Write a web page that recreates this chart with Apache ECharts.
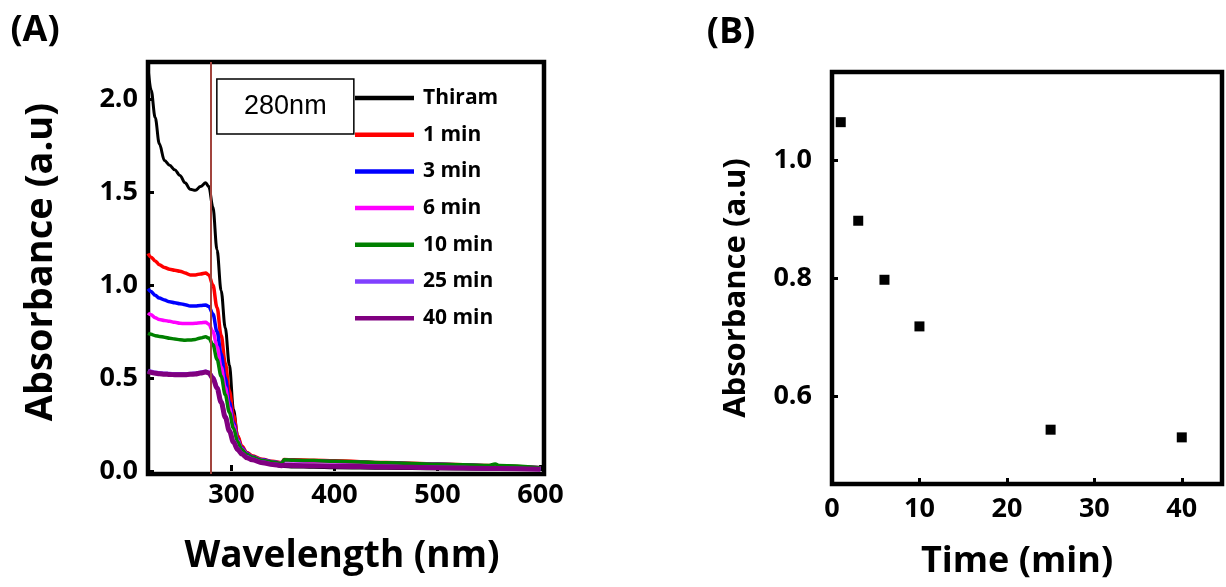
<!DOCTYPE html>
<html>
<head>
<meta charset="utf-8">
<script src="https://cdn.jsdelivr.net/npm/echarts@6/dist/echarts.min.js"></script>
<style>
  html, body { margin: 0; padding: 0; background: #fff; }
  #chart { width: 1226px; height: 587px; }
</style>
</head>
<body>
<div id="chart"></div>
<script>
// UV-Vis spectra of thiram during degradation (panel A)
const wavelengths = [219, 222, 226, 230, 235, 240, 245, 250, 255, 260, 265, 270, 275, 278, 282, 286, 290, 294, 298, 302, 306, 310, 315, 320, 330, 340, 349, 351, 360, 380, 400, 450, 500, 550, 556, 560, 600];
const absThiram = [2.17, 2.05, 1.90, 1.76, 1.67, 1.645, 1.62, 1.59, 1.55, 1.515, 1.51, 1.53, 1.55, 1.53, 1.42, 1.19, 0.97, 0.77, 0.57, 0.33, 0.19, 0.125, 0.09, 0.07, 0.048, 0.035, 0.025, 0.025, 0.022, 0.02, 0.018, 0.015, 0.012, 0.01, 0.01, 0.01, 0.008];
const abs1min = [1.17, 1.15, 1.13, 1.11, 1.095, 1.085, 1.08, 1.075, 1.065, 1.055, 1.055, 1.06, 1.065, 1.055, 1.00, 0.88, 0.73, 0.58, 0.43, 0.30, 0.19, 0.135, 0.10, 0.082, 0.063, 0.052, 0.046, 0.062, 0.06, 0.058, 0.055, 0.046, 0.038, 0.03, 0.028, 0.027, 0.018];
const abs3min = [0.98, 0.965, 0.945, 0.93, 0.92, 0.91, 0.905, 0.90, 0.895, 0.888, 0.887, 0.89, 0.893, 0.885, 0.845, 0.75, 0.63, 0.50, 0.37, 0.26, 0.172, 0.125, 0.095, 0.078, 0.06, 0.05, 0.043, 0.058, 0.056, 0.054, 0.051, 0.043, 0.036, 0.028, 0.027, 0.026, 0.017];
const abs6min = [0.85, 0.84, 0.825, 0.815, 0.81, 0.805, 0.80, 0.795, 0.793, 0.793, 0.795, 0.797, 0.80, 0.79, 0.75, 0.67, 0.56, 0.45, 0.34, 0.245, 0.165, 0.12, 0.092, 0.076, 0.058, 0.049, 0.042, 0.057, 0.055, 0.053, 0.05, 0.042, 0.035, 0.028, 0.027, 0.026, 0.017];
const abs10min = [0.74, 0.735, 0.728, 0.724, 0.72, 0.714, 0.71, 0.706, 0.704, 0.705, 0.708, 0.715, 0.722, 0.715, 0.68, 0.60, 0.51, 0.41, 0.315, 0.23, 0.158, 0.116, 0.09, 0.075, 0.057, 0.048, 0.042, 0.06, 0.058, 0.056, 0.053, 0.045, 0.037, 0.03, 0.038, 0.03, 0.018];
const abs25min = [0.54, 0.535, 0.53, 0.527, 0.525, 0.523, 0.522, 0.522, 0.522, 0.523, 0.525, 0.53, 0.535, 0.53, 0.505, 0.45, 0.375, 0.295, 0.22, 0.16, 0.12, 0.095, 0.075, 0.063, 0.047, 0.037, 0.03, 0.032, 0.031, 0.029, 0.027, 0.023, 0.019, 0.015, 0.015, 0.014, 0.01];
const abs40min = [0.535, 0.53, 0.526, 0.523, 0.521, 0.519, 0.518, 0.518, 0.518, 0.52, 0.522, 0.527, 0.532, 0.527, 0.50, 0.445, 0.37, 0.29, 0.215, 0.155, 0.116, 0.092, 0.072, 0.06, 0.045, 0.035, 0.029, 0.031, 0.03, 0.028, 0.026, 0.022, 0.018, 0.014, 0.014, 0.013, 0.009];
const seriesNames = ['Thiram', '1 min', '3 min', '6 min', '10 min', '25 min', '40 min'];
const markedWavelength = 280;
const wavelengthTicks = [300, 400, 500, 600];
const absorbanceTicksA = [0, 0.5, 1.0, 1.5, 2.0];

// Absorbance at 280 nm versus time (panel B)
const times = [1, 3, 6, 10, 25, 40];
const abs280 = [1.065, 0.898, 0.798, 0.719, 0.544, 0.531];
const timeTicks = [0, 10, 20, 30, 40];
const absorbanceTicksB = [0.6, 0.8, 1.0];

const FONT = '"Open Sans", sans-serif';
const spectra = [absThiram, abs1min, abs3min, abs6min, abs10min, abs25min, abs40min];
const colors = ['#000000', '#ff0000', '#0000ff', '#ff00ff', '#008000', '#8040ff', '#800080'];
const widths = [3, 3.5, 3.5, 3.5, 3.5, 4, 5];

const chart = echarts.init(document.getElementById('chart'), null, { renderer: 'canvas' });

const tickStyle = { inside: true, length: 6, lineStyle: { color: '#000', width: 3 } };
const labelStyle = { color: '#000', fontFamily: FONT, fontWeight: 'bold', fontSize: 27 };

const lineSeries = spectra.map((arr, k) => {
  const s = {
    type: 'line',
    name: seriesNames[k],
    xAxisIndex: 0,
    yAxisIndex: 0,
    data: wavelengths.map((w, i) => [w, arr[i]]),
    showSymbol: false,
    symbol: 'none',
    smooth: 0.35,
    smoothMonotone: 'x',
    clip: true,
    color: colors[k],
    lineStyle: { color: colors[k], width: widths[k] }
  };
  if (k === spectra.length - 1) {
    s.markLine = {
      silent: true,
      symbol: ['none', 'none'],
      label: { show: false },
      lineStyle: { color: '#a2443d', width: 2, type: 'solid' },
      data: [{ xAxis: markedWavelength }]
    };
  }
  return s;
});

chart.setOption({
  animation: false,
  backgroundColor: '#fff',
  grid: [
    { left: 148, top: 62, width: 396, height: 412, show: true, borderColor: '#000', borderWidth: 4.5, backgroundColor: 'transparent' },
    { left: 832, top: 72, width: 390, height: 412, show: true, borderColor: '#000', borderWidth: 4.5, backgroundColor: 'transparent' }
  ],
  legend: {
    data: seriesNames,
    orient: 'vertical',
    left: 355,
    top: 86,
    padding: 0,
    icon: 'rect',
    itemWidth: 59,
    itemHeight: 4.5,
    itemGap: 12.7,
    selectedMode: false,
    textStyle: { color: '#000', fontFamily: FONT, fontWeight: 'bold', fontSize: 21, lineHeight: 24, padding: [0, 0, 0, 4] }
  },
  xAxis: [
    {
      type: 'value', gridIndex: 0, min: 219, max: 603.4,
      axisLine: { show: false },
      axisTick: Object.assign({ customValues: wavelengthTicks }, tickStyle),
      axisLabel: Object.assign({ customValues: wavelengthTicks, margin: 8 }, labelStyle),
      splitLine: { show: false }
    },
    {
      type: 'value', gridIndex: 1, min: 0, max: 44.6,
      axisLine: { show: false },
      axisTick: Object.assign({ customValues: timeTicks }, tickStyle),
      axisLabel: Object.assign({ customValues: timeTicks, margin: 12 }, labelStyle),
      splitLine: { show: false }
    }
  ],
  yAxis: [
    {
      type: 'value', gridIndex: 0, min: -0.016, max: 2.2,
      axisLine: { show: false },
      axisTick: Object.assign({ customValues: absorbanceTicksA }, tickStyle),
      axisLabel: Object.assign({ customValues: absorbanceTicksA, margin: 10, formatter: v => v.toFixed(1) }, labelStyle),
      splitLine: { show: false }
    },
    {
      type: 'value', gridIndex: 1, min: 0.452, max: 1.15,
      axisLine: { show: false },
      axisTick: Object.assign({ customValues: absorbanceTicksB }, tickStyle),
      axisLabel: Object.assign({ customValues: absorbanceTicksB, margin: 20, formatter: v => v.toFixed(1) }, labelStyle),
      splitLine: { show: false }
    }
  ],
  series: lineSeries.concat([
    {
      type: 'scatter',
      name: 'Absorbance at 280 nm',
      xAxisIndex: 1,
      yAxisIndex: 1,
      data: times.map((t, i) => [t, abs280[i]]),
      symbol: 'rect',
      symbolSize: 10,
      itemStyle: { color: '#000', opacity: 1 }
    }
  ])
});

// Annotation box next to the 280 nm marker line, plus titles and panel letters
const markerX = chart.convertToPixel({ xAxisIndex: 0 }, markedWavelength);
const boxX = markerX + 6;
const titleFont = 'bold 36px ' + FONT;

chart.setOption({
  graphic: [
    { type: 'rect', shape: { x: boxX, y: 79, width: 137, height: 55 }, style: { fill: '#fff', stroke: '#000', lineWidth: 1.5 }, z: 10 },
    { type: 'text', x: boxX + 68.5, y: 107, style: { text: '280nm', font: '27px "Liberation Sans", Arial, sans-serif', fill: '#000', textAlign: 'center', textVerticalAlign: 'middle' }, z: 11 },
    { type: 'text', x: 35, y: 31, style: { text: '(A)', font: titleFont, fill: '#000', textAlign: 'center', textVerticalAlign: 'middle' } },
    { type: 'text', x: 731, y: 33, style: { text: '(B)', font: titleFont, fill: '#000', textAlign: 'center', textVerticalAlign: 'middle' } },
    { type: 'text', x: 41, y: 262, rotation: Math.PI / 2, style: { text: 'Absorbance (a.u)', font: 'bold 38px ' + FONT, fill: '#000', textAlign: 'center', textVerticalAlign: 'middle' } },
    { type: 'text', x: 342, y: 556, style: { text: 'Wavelength (nm)', font: 'bold 37px ' + FONT, fill: '#000', textAlign: 'center', textVerticalAlign: 'middle' } },
    { type: 'text', x: 736, y: 288, rotation: Math.PI / 2, style: { text: 'Absorbance (a.u)', font: 'bold 31px ' + FONT, fill: '#000', textAlign: 'center', textVerticalAlign: 'middle' } },
    { type: 'text', x: 1017, y: 562, style: { text: 'Time (min)', font: titleFont, fill: '#000', textAlign: 'center', textVerticalAlign: 'middle' } }
  ]
});
</script>
</body>
</html>
